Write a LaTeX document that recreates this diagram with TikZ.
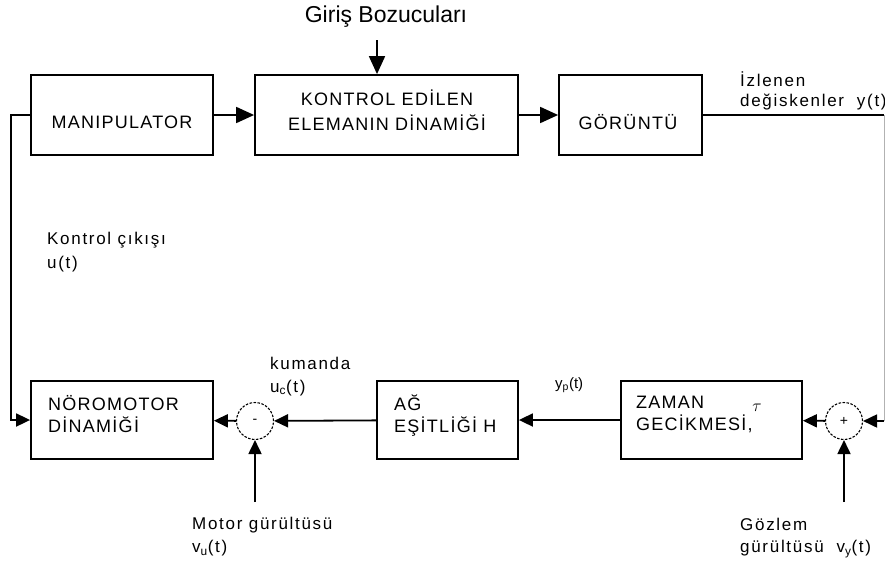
\documentclass[tikz,border=0pt]{standalone}
\usepackage{fontspec}
\setmainfont{Liberation Sans}
\newfontfamily\boxfont[LetterSpace=7]{Liberation Sans}
\newfontfamily\lblfont[LetterSpace=10]{Liberation Sans}
\usetikzlibrary{arrows.meta}
\begin{document}
\begin{tikzpicture}[x=1pt,y=-1pt,
  blk/.style={draw, line width=1.8pt, minimum height=80pt, inner sep=0pt},
  sumc/.style={circle, draw, dash pattern=on 2.5pt off 1.5pt, line width=1.1pt, minimum size=37pt, inner sep=0pt, font=\fontsize{14}{14}\selectfont},
  wire/.style={line width=1.8pt},
  bigarr/.style={wire, -{Triangle[length=18pt,width=16pt]}},
  smarr/.style={wire, -{Triangle[length=14pt,width=13pt]}},
  bt/.style={font=\boxfont\fontsize{18}{22}\selectfont, inner sep=0pt},
  lt/.style={font=\lblfont\fontsize{17}{24}\selectfont, anchor=west, inner sep=0pt},
]
\useasboundingbox (0,0) rectangle (885,562);
% top row
\node[blk, minimum width=182pt] (man) at (122,115) {};
\node[bt] (manT) at (122,122) {MANIPULATOR};
\node[blk, minimum width=263pt] (ked) at (386.5,115) {};
\node[bt, align=center, font=\boxfont\fontsize{18}{25}\selectfont] (kedT) at (387,110.5) {KONTROL EDİLEN\\ELEMANIN DİNAMİĞİ};
\node[blk, minimum width=143pt] (gor) at (630.5,115) {};
\node[bt] (gorT) at (628,122) {GÖRÜNTÜ};
% bottom row
\node[blk, minimum width=182pt, minimum height=78pt] (nor) at (122,420) {};
\node[bt, align=left, anchor=west] (norT) at (48,414) {NÖROMOTOR\\DİNAMİĞİ};
\node[sumc] (s1) at (255,421) {-};
\node[blk, minimum width=141pt, minimum height=78pt] (ag) at (447.5,420) {};
\node[bt, align=left, anchor=west] (agT) at (394,416) {AĞ\\EŞİTLİĞİ H};
\node[blk, minimum width=181pt, minimum height=78pt] (zam) at (711.5,420) {};
\node[bt, align=left, anchor=west] (zamT) at (636,414.5) {ZAMAN\\GECİKMESİ,};
\node[font=\fontsize{16}{16}\selectfont, inner sep=0pt] (tau) at (757,408) {$\tau$};
\node[sumc] (s2) at (844,421) {+};
% connectors
\draw[bigarr] (man) -- (ked);
\draw[bigarr] (ked) -- (gor);
\coordinate (gin) at (377,40);
\draw[bigarr] (gin) -- (gin |- ked.north);
\coordinate (rt) at (884,115);
\draw[wire] (gor.east) -- (rt);
\draw[gray!60, line width=1pt] (rt) -- (rt |- s2);
\draw[smarr] (rt |- s2) -- (s2.east);
\draw[smarr] (s2) -- (zam);
\draw[smarr] (zam) -- (ag);
\draw[smarr] (ag) -- (s1);
\draw[smarr] (s1) -- (nor);
\draw[smarr] (man.west) -- ++(-19,0) |- (nor.west);
\coordinate (mn) at (255,502);
\draw[smarr] (mn) -- (s1.south);
\coordinate (gn) at (844,502);
\draw[smarr] (gn) -- (s2.south);
% labels
\node[font=\fontsize{23}{23}\selectfont, inner sep=0pt] (giris) at (386,17) {Giriş Bozucuları};
\node[lt] (izl1) at (740,79) {İzlenen};
\node[lt] (izl2) at (740,102) {değiskenler\ \ y(t)};
\node[lt] (kon1) at (47,240) {Kontrol çıkışı};
\node[lt] (kon2) at (47,264) {u(t)};
\node[lt] (kum1) at (270,363) {kumanda};
\node[lt] (kum2) at (270,388) {u\textsubscript{c}(t)};
\node[lt, font=\fontsize{15}{15}\selectfont] (yp) at (555,385) {y\textsubscript{p}(t)};
\node[lt] (mot1) at (192,525) {Motor gürültüsü};
\node[lt] (mot2) at (192,548) {v\textsubscript{u}(t)};
\node[lt] (goz1) at (740,524) {Gözlem};
\node[lt] (goz2) at (740,549) {gürültüsü\ \ v\textsubscript{y}(t)};
\end{tikzpicture}
\end{document}
